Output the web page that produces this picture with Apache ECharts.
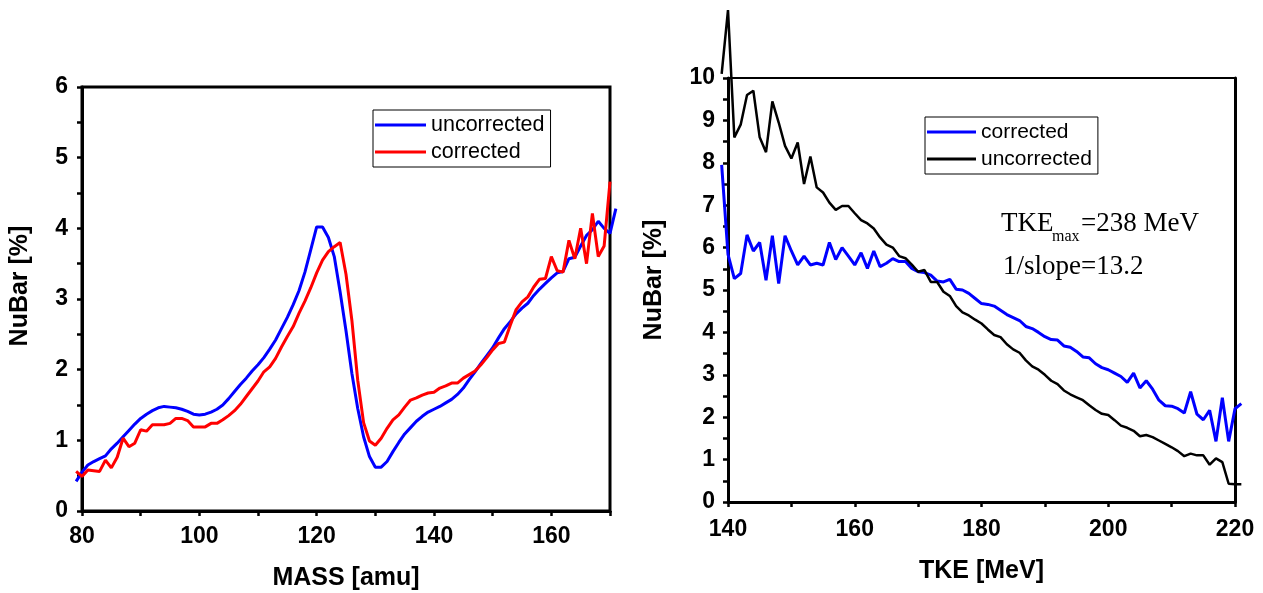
<!DOCTYPE html>
<html>
<head>
<meta charset="utf-8">
<script src="https://cdn.jsdelivr.net/npm/echarts@6/dist/echarts.min.js"></script>
<style>
  html, body { margin: 0; padding: 0; background: #fff; }
  #wrap { position: relative; width: 1263px; height: 593px; }
  #mass { position: absolute; left: 0; top: 0; width: 640px; height: 593px; }
  #tke { position: absolute; left: 640px; top: 0; width: 623px; height: 593px; }
</style>
</head>
<body>
<div id="wrap">
  <div id="mass"></div>
  <div id="tke"></div>
</div>
<script>
// left panel: NuBar vs fragment mass
const massX = [79, 80, 81, 82, 83, 84, 85, 86, 87, 88, 89, 90, 91, 92, 93, 94, 95, 96, 97, 98, 99,
  100, 101, 102, 103, 104, 105, 106, 107, 108, 109, 110, 111, 112, 113, 114, 115, 116, 117, 118, 119,
  120, 121, 122, 123, 124, 125, 126, 127, 128, 129, 130, 131, 132, 133, 134, 135, 136, 137, 138, 139,
  140, 141, 142, 143, 144, 145, 146, 147, 148, 149, 150, 151, 152, 153, 154, 155, 156, 157, 158, 159,
  160, 161, 162, 163, 164, 165, 166, 167, 168, 169, 170, 171]
const massUncorrected = [0.42, 0.55, 0.65, 0.70, 0.74, 0.78, 0.88, 0.96, 1.05, 1.14, 1.23, 1.31, 1.37, 1.42, 1.46, 1.48, 1.47, 1.46, 1.44, 1.41, 1.37,
  1.36, 1.37, 1.40, 1.44, 1.50, 1.59, 1.69, 1.79, 1.88, 1.98, 2.07, 2.17, 2.29, 2.42, 2.58, 2.74, 2.92, 3.12, 3.38, 3.70,
  4.02, 4.02, 3.87, 3.60, 3.10, 2.55, 1.95, 1.45, 1.05, 0.77, 0.62, 0.62, 0.70, 0.84, 0.97, 1.09, 1.18, 1.27, 1.34, 1.40,
  1.44, 1.48, 1.53, 1.58, 1.65, 1.74, 1.86, 1.97, 2.09, 2.20, 2.31, 2.45, 2.58, 2.68, 2.79, 2.87, 2.94, 3.05, 3.14, 3.22,
  3.30, 3.37, 3.39, 3.57, 3.59, 3.75, 3.90, 3.98, 4.10, 4.00, 3.93, 4.28]
const massCorrected = [0.56, 0.49, 0.58, 0.57, 0.56, 0.72, 0.61, 0.76, 1.03, 0.91, 0.96, 1.15, 1.13, 1.22, 1.22, 1.22, 1.24, 1.31, 1.31, 1.28, 1.19,
  1.19, 1.19, 1.24, 1.24, 1.29, 1.35, 1.42, 1.51, 1.62, 1.73, 1.84, 1.97, 2.04, 2.16, 2.32, 2.47, 2.61, 2.80, 2.97, 3.16,
  3.37, 3.55, 3.67, 3.74, 3.80, 3.35, 2.70, 1.85, 1.25, 0.99, 0.93, 1.03, 1.17, 1.29, 1.36, 1.47, 1.57, 1.60, 1.64, 1.67,
  1.68, 1.74, 1.77, 1.81, 1.81, 1.88, 1.93, 1.98, 2.07, 2.17, 2.28, 2.37, 2.39, 2.63, 2.85, 2.96, 3.03, 3.17, 3.28, 3.29,
  3.60, 3.40, 3.38, 3.83, 3.57, 4.00, 3.50, 4.21, 3.60, 3.75, 4.66]

// right panel: NuBar vs total kinetic energy
const tkeX = [139, 140, 141, 142, 143, 144, 145, 146, 147, 148, 149, 150, 151, 152, 153, 154, 155, 156, 157, 158, 159,
  160, 161, 162, 163, 164, 165, 166, 167, 168, 169, 170, 171, 172, 173, 174, 175, 176, 177, 178, 179,
  180, 181, 182, 183, 184, 185, 186, 187, 188, 189, 190, 191, 192, 193, 194, 195, 196, 197, 198, 199,
  200, 201, 202, 203, 204, 205, 206, 207, 208, 209, 210, 211, 212, 213, 214, 215, 216, 217, 218, 219,
  220, 221]
const tkeCorrected = [7.95, 5.84, 5.27, 5.39, 6.30, 5.92, 6.12, 5.23, 6.28, 5.15, 6.28, 5.92, 5.59, 5.80, 5.59, 5.63, 5.59, 6.12, 5.72, 6.00, 5.80,
  5.59, 5.88, 5.51, 5.92, 5.55, 5.63, 5.74, 5.67, 5.67, 5.51, 5.43, 5.41, 5.35, 5.21, 5.19, 5.25, 5.02, 5.00, 4.92, 4.80,
  4.68, 4.66, 4.62, 4.52, 4.42, 4.35, 4.28, 4.14, 4.09, 4.00, 3.90, 3.83, 3.82, 3.68, 3.65, 3.55, 3.42, 3.40, 3.26, 3.17,
  3.12, 3.04, 2.96, 2.82, 3.04, 2.69, 2.86, 2.66, 2.40, 2.27, 2.26, 2.20, 2.10, 2.60, 2.07, 1.94, 2.16, 1.43, 2.46, 1.43,
  2.20, 2.32]
const tkeUncorrected = [10.1, 11.6, 8.6, 8.9, 9.6, 9.7, 8.6, 8.25, 9.45, 8.95, 8.4, 8.1, 8.48, 7.5, 8.15, 7.42, 7.3, 7.06, 6.89, 6.98, 6.98,
  6.81, 6.65, 6.57, 6.45, 6.24, 6.07, 6.00, 5.80, 5.75, 5.60, 5.43, 5.47, 5.19, 5.19, 4.96, 4.86, 4.62, 4.47, 4.40, 4.30,
  4.21, 4.07, 3.94, 3.89, 3.72, 3.60, 3.52, 3.34, 3.20, 3.12, 3.00, 2.86, 2.78, 2.63, 2.54, 2.47, 2.40, 2.28, 2.17, 2.08,
  2.05, 1.93, 1.80, 1.75, 1.68, 1.55, 1.58, 1.53, 1.45, 1.37, 1.29, 1.20, 1.08, 1.14, 1.10, 1.10, 0.88, 1.03, 0.94, 0.43,
  0.42, 0.42]

const pairs = (xs, ys) => ys.map((y, i) => [xs[i], y])

const sans = 'Liberation Sans, Arial, sans-serif'
const serif = 'Liberation Serif, Times New Roman, serif'

const tickLabel = (step) => ({
  fontFamily: sans,
  fontWeight: 'bold',
  fontSize: 23,
  color: '#000',
  formatter: v => (Math.abs(v / step - Math.round(v / step)) < 1e-6 ? String(Math.round(v)) : '')
})

const axisName = {
  fontFamily: sans,
  fontWeight: 'bold',
  fontSize: 25,
  color: '#000'
}

const legendBox = (left, top, fontSize) => ({
  left: left,
  top: top,
  orient: 'vertical',
  backgroundColor: '#fff',
  borderColor: '#000',
  borderWidth: 1,
  borderRadius: 0,
  padding: [3, 6, 3, 2],
  itemGap: 3,
  itemWidth: 51,
  itemHeight: 3,
  icon: 'rect',
  selectedMode: false,
  textStyle: { fontFamily: sans, fontSize: fontSize, color: '#000', lineHeight: 24 }
})

// the curves run a little past the frame, so they sit on a hidden,
// slightly wider grid that keeps the same scale as the visible one
const hiddenAxis = (min, max) => ({
  type: 'value', gridIndex: 1, min: min, max: max, show: false, splitLine: { show: false }
})

const lineSeries = (name, xs, ys, color, width) => ({
  name: name,
  type: 'line',
  xAxisIndex: 1,
  yAxisIndex: 1,
  data: pairs(xs, ys),
  showSymbol: false,
  symbol: 'none',
  clip: false,
  color: color,
  lineStyle: { color: color, width: width }
})

// mass chart: 80..170 over x 82..610 px
const massPx = (610 - 82) / 90
const massEc = echarts.init(document.getElementById('mass'))
massEc.setOption({
  animation: false,
  grid: [
    { left: 82, right: 30, top: 87, bottom: 82, outerBoundsMode: 'none', show: true, borderColor: '#000', borderWidth: 3 },
    { left: 82 - 2 * massPx, right: 30 - 2 * massPx, top: 87, bottom: 82, outerBoundsMode: 'none' }
  ],
  legend: Object.assign(legendBox(373, 110, 21.5), { data: ['uncorrected', 'corrected'] }),
  xAxis: [
    {
      type: 'value',
      min: 80,
      max: 170,
      interval: 10,
      name: 'MASS [amu]',
      nameLocation: 'middle',
      nameGap: 55,
      nameTextStyle: axisName,
      axisLine: { lineStyle: { color: '#000', width: 3 } },
      axisTick: { inside: false, length: 5, lineStyle: { color: '#000', width: 2.5 } },
      axisLabel: Object.assign(tickLabel(20), { margin: 14 }),
      splitLine: { show: false }
    },
    hiddenAxis(78, 172)
  ],
  yAxis: [
    {
      type: 'value',
      min: 0,
      max: 6,
      interval: 0.5,
      name: 'NuBar [%]',
      nameLocation: 'middle',
      nameGap: 49,
      nameTextStyle: Object.assign({ padding: [0, 0, 0, 26] }, axisName),
      axisLine: { show: true, lineStyle: { color: '#000', width: 3 } },
      axisTick: { show: true, inside: false, length: 5, lineStyle: { color: '#000', width: 2.5 } },
      axisLabel: Object.assign(tickLabel(1), { margin: 14 }),
      splitLine: { show: false }
    },
    hiddenAxis(0, 6)
  ],
  series: [
    lineSeries('uncorrected', massX, massUncorrected, '#0000ff', 3),
    lineSeries('corrected', massX, massCorrected, '#ff0000', 3)
  ]
})

// TKE chart: 140..220 over x 728..1235 px
const tkePx = (1235 - 728) / 80
const tkeEc = echarts.init(document.getElementById('tke'))
const noteFont = { fontFamily: serif, fontSize: 27, fill: '#000' }
tkeEc.setOption({
  animation: false,
  grid: [
    { left: 88, right: 28, top: 78, bottom: 91, outerBoundsMode: 'none', show: true, borderColor: '#000', borderWidth: 2 },
    { left: 88 - 2 * tkePx, right: 28 - 2 * tkePx, top: 78, bottom: 91, outerBoundsMode: 'none' }
  ],
  legend: Object.assign(legendBox(285, 117, 21), { data: ['corrected', 'uncorrected'], itemWidth: 49 }),
  xAxis: [
    {
      type: 'value',
      min: 140,
      max: 220,
      interval: 10,
      name: 'TKE [MeV]',
      nameLocation: 'middle',
      nameGap: 57,
      nameTextStyle: axisName,
      axisLine: { lineStyle: { color: '#000', width: 3 } },
      axisTick: { inside: false, length: 5, lineStyle: { color: '#000', width: 2.5 } },
      axisLabel: Object.assign(tickLabel(20), { margin: 16 }),
      splitLine: { show: false }
    },
    hiddenAxis(138, 222)
  ],
  yAxis: [
    {
      type: 'value',
      min: 0,
      max: 10,
      interval: 0.5,
      name: 'NuBar [%]',
      nameLocation: 'middle',
      nameGap: 61,
      nameTextStyle: Object.assign({ padding: [0, 0, 0, 20] }, axisName),
      axisLine: { show: true, lineStyle: { color: '#000', width: 3 } },
      axisTick: { show: true, inside: false, length: 5, lineStyle: { color: '#000', width: 2.5 } },
      axisLabel: Object.assign(tickLabel(1), { margin: 13 }),
      splitLine: { show: false }
    },
    hiddenAxis(0, 10),
    {
      // thicker right frame
      type: 'value',
      gridIndex: 0,
      position: 'right',
      min: 0,
      max: 10,
      axisLine: { show: true, lineStyle: { color: '#000', width: 3 } },
      axisTick: { show: false },
      axisLabel: { show: false },
      splitLine: { show: false }
    }
  ],
  // TKE with subscript "max", then the slope note
  graphic: [
    { type: 'text', left: 361, top: 210, style: Object.assign({ text: 'TKE' }, noteFont) },
    { type: 'text', left: 412, top: 229, style: { text: 'max', fontFamily: serif, fontSize: 16, fill: '#000' } },
    { type: 'text', left: 441, top: 210, style: Object.assign({ text: '=238 MeV' }, noteFont) },
    { type: 'text', left: 363, top: 253, style: Object.assign({ text: '1/slope=13.2' }, noteFont) }
  ],
  series: [
    lineSeries('corrected', tkeX, tkeCorrected, '#0000ff', 3),
    lineSeries('uncorrected', tkeX, tkeUncorrected, '#000', 2.5)
  ]
})
</script>
</body>
</html>
